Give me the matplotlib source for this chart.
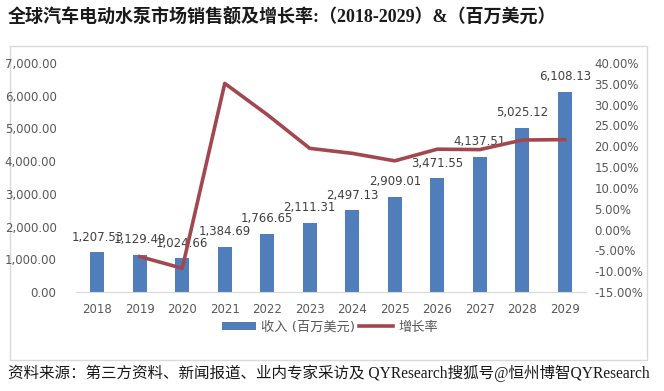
import numpy as np
import matplotlib
matplotlib.use('Agg')
import matplotlib.pyplot as plt
import matplotlib.patches as mpatches
from matplotlib.ticker import FuncFormatter

plt.rcParams['font.family'] = ['DejaVu Sans', 'Noto Sans CJK SC']

# === Data ===
years = ['2018', '2019', '2020', '2021', '2022', '2023',
         '2024', '2025', '2026', '2027', '2028', '2029']
revenue = [1207.53, 1129.49, 1024.66, 1384.69, 1766.65, 2111.31,
           2497.13, 2909.01, 3471.55, 4137.51, 5025.12, 6108.13]
# growth rate (%), first year has no value
growth = [np.nan, -6.5, -9.3, 35.1, 27.6, 19.5,
          18.3, 16.5, 19.3, 19.2, 21.5, 21.6]

title = '全球汽车电动水泵市场销售额及增长率:（2018-2029）&（百万美元）'
source = '资料来源：第三方资料、新闻报道、业内专家采访及 QYResearch搜狐号@恒州博智QYResearch'
bar_label = '收入 (百万美元)'
line_label = '增长率'

BAR_C = '#4F7EBB'
LINE_C = '#A3474E'
TXT_C = '#595959'

fig = plt.figure(figsize=(6.64, 3.91), dpi=100)

# chart frame
frame = mpatches.Rectangle((10 / 664, 1 - 360 / 391), 637 / 664, 314 / 391,
                           transform=fig.transFigure, facecolor='white',
                           edgecolor='#D9D9D9', linewidth=1.0, zorder=-5)
fig.patches.append(frame)

ax = fig.add_axes([76 / 664, 1 - 292 / 391, 510 / 664, 229 / 391])
ax.patch.set_alpha(0)
x = np.arange(len(years))
ax.bar(x, revenue, width=0.33, color=BAR_C, label=bar_label, zorder=2)
ax.set_ylim(0, 7000)
ax.set_xlim(-0.5, len(years) - 0.5)
ax.set_yticks(np.arange(0, 7001, 1000))
ax.yaxis.set_major_formatter(FuncFormatter(lambda v, p: f'{v:,.2f}'))
ax.set_xticks(x)
ax.set_xticklabels(years)
for s in ['top', 'right', 'left']:
    ax.spines[s].set_visible(False)
ax.spines['bottom'].set_color('#D9D9D9')
ax.tick_params(length=0, labelsize=8.5, labelcolor=TXT_C)
ax.tick_params(axis='x', pad=8)
ax.tick_params(axis='y', pad=14)

for xi, v in zip(x, revenue):
    ax.annotate(f'{v:,.2f}', (xi, v), xytext=(0, 11), textcoords='offset points',
                ha='center', va='center', fontsize=8.5, color='#404040', zorder=5)

ax2 = ax.twinx()
ax2.plot(x, growth, color=LINE_C, linewidth=2.6, label=line_label, zorder=3)
ax2.set_ylim(-15, 40)
ax2.set_yticks(np.arange(-15, 40.1, 5))
ax2.yaxis.set_major_formatter(FuncFormatter(lambda v, p: f'{v:.2f}%'))
for s in ['top', 'right', 'left', 'bottom']:
    ax2.spines[s].set_visible(False)
ax2.tick_params(length=0, labelsize=8.5, labelcolor=TXT_C, pad=6)

h1, l1 = ax.get_legend_handles_labels()
h2, l2 = ax2.get_legend_handles_labels()
fig.legend(h1 + h2, l1 + l2, loc='center', bbox_to_anchor=(330 / 664, 1 - 327 / 391),
           ncol=2, frameon=False, fontsize=9.5, handlelength=2.6, handleheight=0.6,
           columnspacing=0.3, handletextpad=0.4, labelcolor=TXT_C)

fig.text(8 / 664, 1 - 18 / 391, title, fontsize=13, fontweight='bold',
         family=['Liberation Serif', 'Noto Sans CJK SC'], color='#1a1a1a',
         ha='left', va='center')
fig.text(8 / 664, 1 - 373 / 391, source, fontsize=11.2,
         family=['Liberation Serif', 'Noto Sans CJK SC'], color='#1a1a1a',
         ha='left', va='center')

plt.savefig('out.png', dpi=100)
